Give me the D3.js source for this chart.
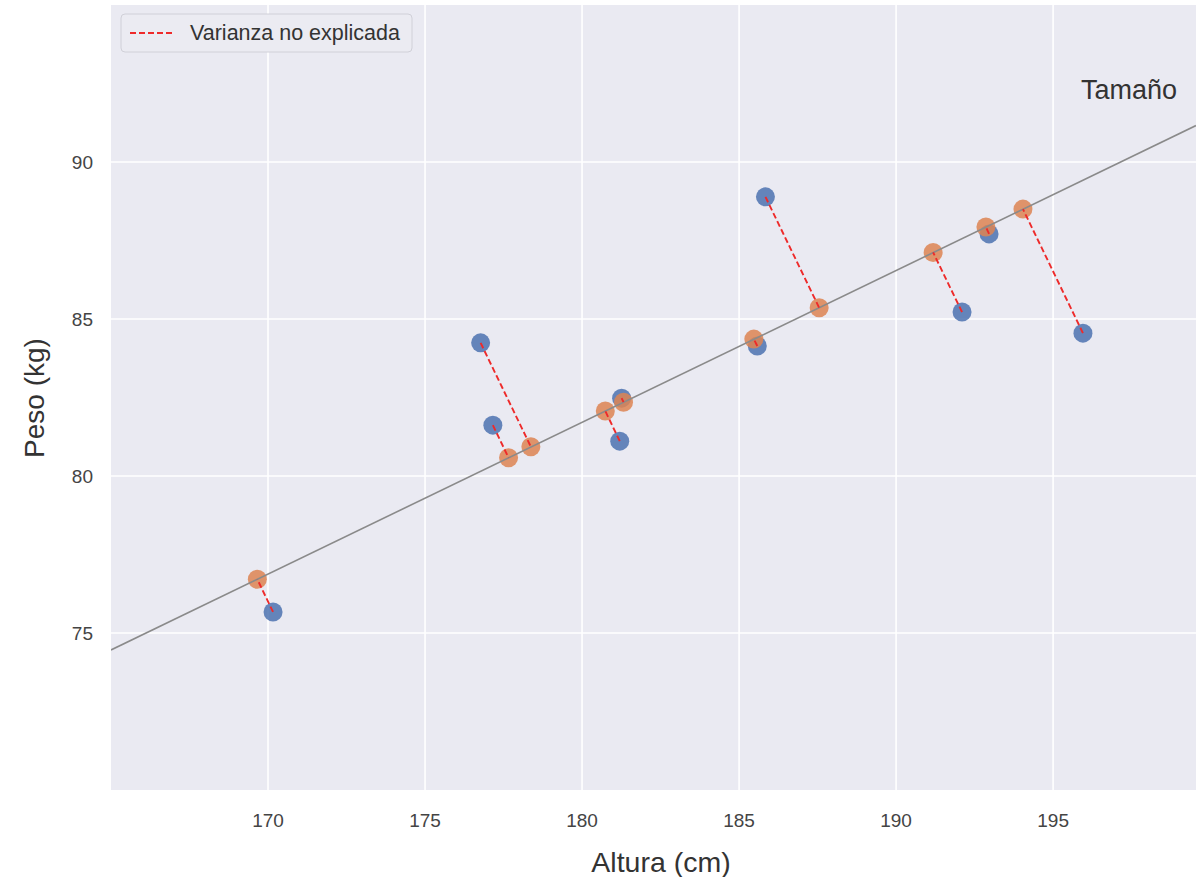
<!DOCTYPE html>
<html>
<head>
<meta charset="utf-8">
<script src="https://cdn.jsdelivr.net/npm/d3@7"></script>
<style>
  body { margin: 0; background: #fff; }
  text { font-family: "Liberation Sans", Arial, sans-serif; }
</style>
</head>
<body>
<div id="chart"></div>
<script>
// observed heights/weights (blue)
var alturaReal = [170.16, 176.77, 177.16, 181.26, 181.2, 185.58, 185.84, 192.1, 192.96, 195.95];
var pesoReal   = [75.67, 84.24, 81.62, 82.48, 81.11, 84.14, 88.89, 85.22, 87.71, 84.55];
// projected points on the fitted line (orange)
var alturaProy = [169.66, 178.37, 177.66, 181.32, 180.74, 185.47, 187.55, 191.18, 192.86, 194.04];
var pesoProy   = [76.71, 80.93, 80.58, 82.35, 82.07, 84.36, 85.36, 87.12, 87.93, 88.5];
// fitted line end points
var lineaX = [165, 199.55];
var lineaY = [74.46, 91.16];

var xTicks = [170, 175, 180, 185, 190, 195];
var yTicks = [75, 80, 85, 90];

var props = {
  width : 1196,
  height : 877,
  marginTop : 5,
  marginRight : 0,
  marginBottom : 87,
  marginLeft : 111
};

var svg = d3.select("#chart").append("svg")
  .attr("width", props.width)
  .attr("height", props.height);

var scales = {
  x : d3.scaleLinear().domain([165, 199.55]).range([props.marginLeft, props.width - props.marginRight]),
  y : d3.scaleLinear().domain([70, 95]).range([props.height - props.marginBottom, props.marginTop])
};

svg.append("defs").append("clipPath").attr("id", "clip")
  .append("rect")
  .attr("x", props.marginLeft).attr("y", props.marginTop)
  .attr("width", props.width - props.marginLeft - props.marginRight)
  .attr("height", props.height - props.marginTop - props.marginBottom);

svg.append("rect")
  .attr("x", props.marginLeft).attr("y", props.marginTop)
  .attr("width", props.width - props.marginLeft - props.marginRight)
  .attr("height", props.height - props.marginTop - props.marginBottom)
  .style("fill", "#eaeaf2");

// grid
svg.append("g").selectAll("line").data(xTicks).enter().append("line")
  .attr("x1", function(d){ return scales.x(d); })
  .attr("x2", function(d){ return scales.x(d); })
  .attr("y1", props.marginTop)
  .attr("y2", props.height - props.marginBottom)
  .style("stroke", "#fff").style("stroke-width", 1.6);

svg.append("g").selectAll("line").data(yTicks).enter().append("line")
  .attr("y1", function(d){ return scales.y(d); })
  .attr("y2", function(d){ return scales.y(d); })
  .attr("x1", props.marginLeft)
  .attr("x2", props.width - props.marginRight)
  .style("stroke", "#fff").style("stroke-width", 1.6);

// tick labels
svg.append("g").selectAll("text").data(xTicks).enter().append("text")
  .attr("x", function(d){ return scales.x(d); })
  .attr("y", 827)
  .attr("text-anchor", "middle")
  .style("font-size", "19px").style("fill", "#444")
  .text(function(d){ return d; });

svg.append("g").selectAll("text").data(yTicks).enter().append("text")
  .attr("x", 93)
  .attr("y", function(d){ return scales.y(d) + 7; })
  .attr("text-anchor", "end")
  .style("font-size", "19px").style("fill", "#444")
  .text(function(d){ return d; });

// axis titles
svg.append("text")
  .attr("x", 661).attr("y", 872)
  .attr("text-anchor", "middle")
  .style("font-size", "28.5px").style("fill", "#333")
  .text("Altura (cm)");

svg.append("text")
  .attr("transform", "translate(44,398) rotate(-90)")
  .attr("text-anchor", "middle")
  .style("font-size", "28px").style("fill", "#333")
  .text("Peso (kg)");

var plot = svg.append("g").attr("clip-path", "url(#clip)");

var reales = alturaReal.map(function(d, i){ return {x: d, y: pesoReal[i]}; });
var proyectados = alturaProy.map(function(d, i){ return {x: d, y: pesoProy[i]}; });

plot.append("g").selectAll("circle").data(reales).enter().append("circle")
  .attr("cx", function(d){ return scales.x(d.x); })
  .attr("cy", function(d){ return scales.y(d.y); })
  .attr("r", 9.5)
  .style("fill", "#4c72b0").style("fill-opacity", 0.85);

plot.append("g").selectAll("circle").data(proyectados).enter().append("circle")
  .attr("cx", function(d){ return scales.x(d.x); })
  .attr("cy", function(d){ return scales.y(d.y); })
  .attr("r", 9.5)
  .style("fill", "#dd8452").style("fill-opacity", 0.85);

// fitted line
plot.append("line")
  .attr("x1", scales.x(lineaX[0])).attr("y1", scales.y(lineaY[0]))
  .attr("x2", scales.x(lineaX[1])).attr("y2", scales.y(lineaY[1]))
  .style("stroke", "#8a8a8a").style("stroke-width", 1.6);

// residuals
plot.append("g").selectAll("line").data(reales).enter().append("line")
  .attr("x1", function(d){ return scales.x(d.x); })
  .attr("y1", function(d){ return scales.y(d.y); })
  .attr("x2", function(d, i){ return scales.x(proyectados[i].x); })
  .attr("y2", function(d, i){ return scales.y(proyectados[i].y); })
  .style("stroke", "#ee2a2a").style("stroke-width", 1.9)
  .style("stroke-dasharray", "6,3");

svg.append("text")
  .attr("x", 1129).attr("y", 99)
  .attr("text-anchor", "middle")
  .style("font-size", "27px").style("fill", "#333")
  .text("Tamaño");

// legend
var legend = svg.append("g");
legend.append("rect")
  .attr("x", 121).attr("y", 14).attr("width", 291).attr("height", 38)
  .attr("rx", 4)
  .style("fill", "#ebebf2").style("stroke", "#d0d0d8").style("stroke-width", 1);
legend.append("line")
  .attr("x1", 130).attr("x2", 173).attr("y1", 33).attr("y2", 33)
  .style("stroke", "#ee2a2a").style("stroke-width", 1.9)
  .style("stroke-dasharray", "6,3");
legend.append("text")
  .attr("x", 190).attr("y", 40)
  .style("font-size", "21.5px").style("fill", "#333")
  .text("Varianza no explicada");
</script>
</body>
</html>
